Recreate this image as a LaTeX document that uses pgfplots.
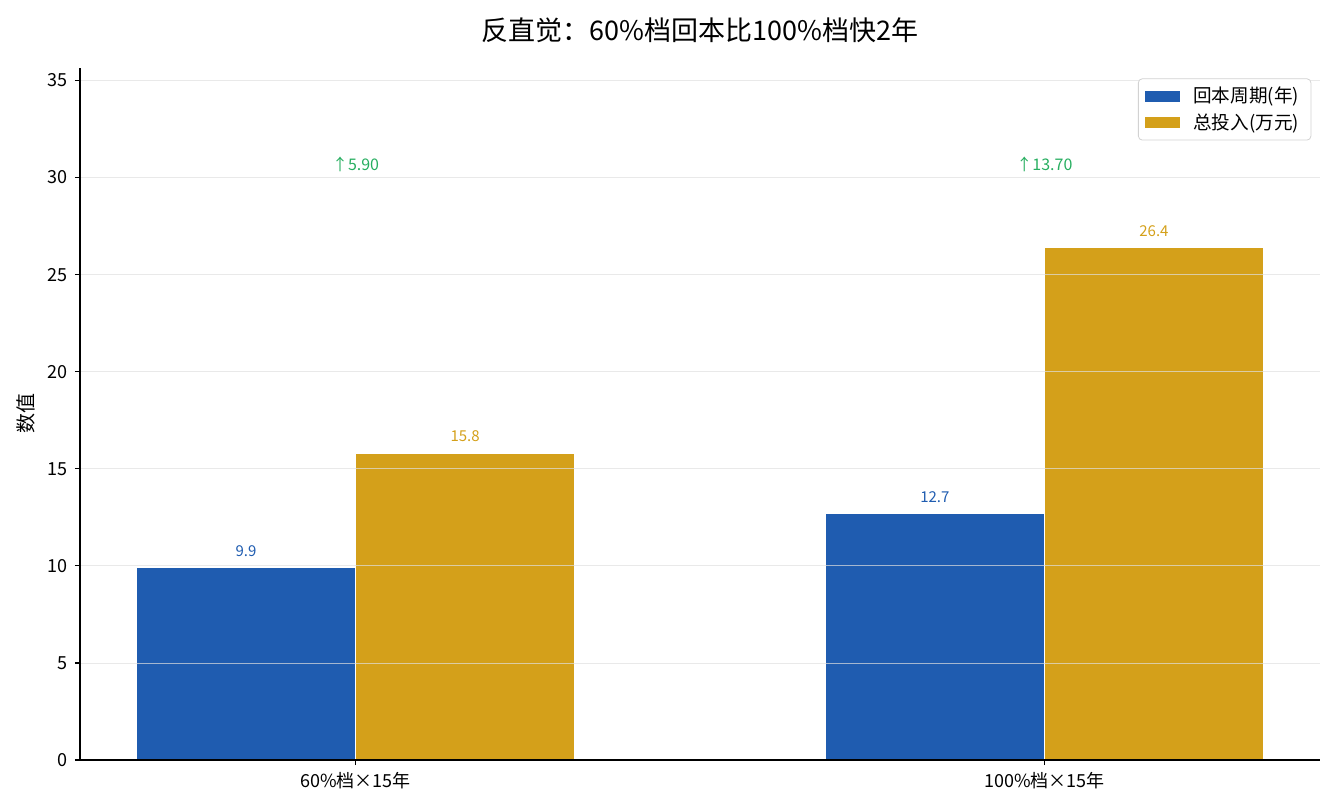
\documentclass[border=0pt]{standalone}
\usepackage{pgfplots}
\pgfplotsset{compat=1.18}
\usepackage{fontspec}
\setmainfont{Noto Sans CJK SC}
\definecolor{cblue}{RGB}{31,92,176}
\definecolor{cgold}{RGB}{212,160,26}
\definecolor{cgreen}{RGB}{39,174,96}
\begin{document}
\begin{tikzpicture}
\begin{axis}[
  scale only axis, width=620pt, height=346pt,
  xmin=-0.4, xmax=1.4, ymin=0, ymax=35.64,
  ybar, bar width=0.318,
  xtick={0,1}, xticklabels={60\%档×15年, 100\%档×15年},
  ytick={0,5,...,35},
  axis lines*=left,
  axis line style={black, line width=0.6pt},
  ymajorgrids, grid style={gray!25, line width=0.4pt, opacity=0.7},
  axis on top,
  tick align=outside, major tick length=2.5pt,
  tick style={black, line width=0.6pt},
  /pgf/number format/assume math mode=true,
  ticklabel style={font=\fontsize{9}{10}\selectfont},
  ylabel={数值},
  every axis y label/.style={at={(axis description cs:-0.044,0.5)}, anchor=center, rotate=90, font=\fontsize{10}{12}\selectfont},
  title={反直觉：60\%档回本比100\%档快2年},
  every axis title/.style={at={(axis description cs:0.5,1)}, anchor=center, yshift=19pt, font=\fontsize{13.5}{15}\selectfont},
  legend style={at={(0.993,0.985)}, anchor=north east, draw=gray!35, rounded corners=2pt,
    font=\fontsize{9.3}{11}\selectfont, row sep=0pt, inner xsep=3pt, inner ysep=2pt,
    nodes={inner xsep=3pt}, column sep=3pt},
  legend cell align=left,
  legend image code/.code={\fill[#1, sharp corners] (0pt,-3pt) rectangle (18pt,3pt);},
  nodes near coords,
  nodes near coords style={font=\fontsize{7.5}{9}\selectfont, yshift=2pt,
    /pgf/number format/fixed, /pgf/number format/fixed zerofill, /pgf/number format/precision=1},
]
\addplot[fill=cblue, draw=white, line width=0.5pt, bar shift=-0.159,
  every node near coord/.append style={text=cblue}] coordinates {(0,9.9) (1,12.7)};
\addlegendentry{回本周期(年)}
\addplot[fill=cgold, draw=white, line width=0.5pt, bar shift=0.159,
  every node near coord/.append style={text=cgold}] coordinates {(0,15.8) (1,26.4)};
\addlegendentry{总投入(万元)}
\node[text=cgreen, font=\fontsize{8}{9}\selectfont] at (axis cs:0,30.7) {↑5.90};
\node[text=cgreen, font=\fontsize{8}{9}\selectfont] at (axis cs:1,30.7) {↑13.70};
\end{axis}
\pgfresetboundingbox
\useasboundingbox ([xshift=-40pt,yshift=-24.5pt]current axis.south west) rectangle ([xshift=7pt,yshift=34pt]current axis.north east);
\end{tikzpicture}
\end{document}
